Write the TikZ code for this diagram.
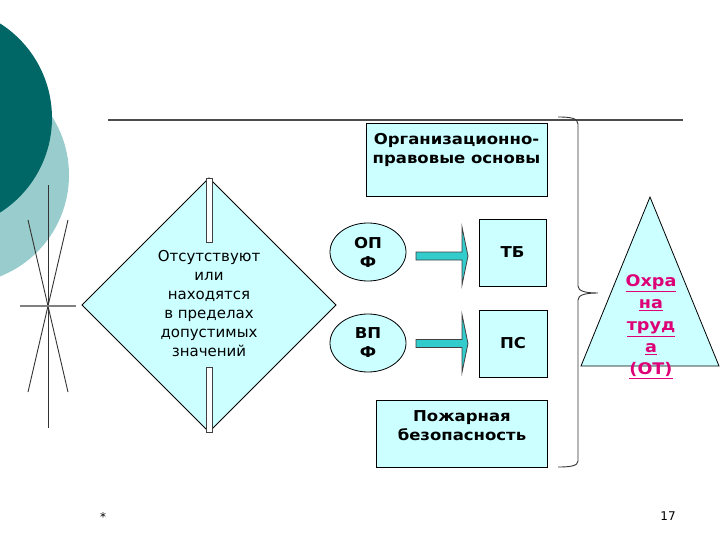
\documentclass[tikz,border=0pt]{standalone}
\usepackage{fontspec}
\setmainfont{DejaVu Sans}[BoldFeatures={FakeStretch=1.1}]
\usetikzlibrary{shapes.geometric}
\definecolor{paleblue}{RGB}{204,255,255}
\definecolor{darkteal}{RGB}{0,102,102}
\definecolor{softteal}{RGB}{153,204,204}
\definecolor{arrowteal}{RGB}{51,204,204}
\definecolor{otpink}{RGB}{221,0,119}
\tikzstyle{block}=[draw,line width=0.8pt,fill=paleblue,inner sep=0pt,font=\bfseries\fontsize{15}{19}\selectfont,align=center]
\tikzstyle{factor}=[ellipse,draw,line width=0.8pt,fill=paleblue,minimum width=76pt,minimum height=58pt,inner sep=0pt,font=\bfseries\fontsize{15}{19}\selectfont,align=center]
\tikzstyle{fat arrow}=[draw=black!75,fill=arrowteal,line width=0.8pt]
\tikzstyle{thinline}=[draw=black!80,line width=0.9pt]

\begin{document}
\begin{tikzpicture}[x=1pt,y=-1pt]
    \useasboundingbox (0,0) rectangle (720,540);
    % Slide decoration on the left
    \begin{scope}
        \clip (0,0) rectangle (720,540);
        \fill[softteal] (-40,175) circle (109pt);
        \fill[darkteal] (-60,118) circle (112pt);
    \end{scope}
    \foreach \from/\to in {{(48,185)/(48,428)}, {(28,220)/(68,392)}, {(68,220)/(28,392)}}
        \path[thinline] \from -- \to;
    \draw[gray,line width=1.6pt] (20,306) -- (76,306);
    \path[thinline,draw=black!70,line width=1.2pt] (108,120) -- (683,120);

    % Diamond with the condition
    \filldraw[fill=paleblue,draw=black,line width=0.8pt] (82,305) -- (209,178) -- (336,305) -- (209,432) -- cycle;
    \filldraw[fill=white,draw=black!75,line width=0.8pt] (206.5,178) rectangle (212,242);
    \filldraw[fill=white,draw=black!75,line width=0.8pt] (206.5,367) rectangle (212,432);
    \node[align=center,font=\fontsize{15}{19}\selectfont] (cond) at (209,304)
        {Отсутствуют\\или\\находятся\\в пределах\\допустимых\\значений};

    % Factors and the boxes
    \node[factor] (opf) at (368,252) {ОП\\Ф};
    \node[factor] (vpf) at (368,343) {ВП\\Ф};
    \node[block,minimum width=181pt,minimum height=73pt] (org) at (456.5,159.5) {};
    \node[align=center,font=\bfseries\fontsize{15}{19}\selectfont] (orgtext) at (456.5,150) {Организационно-\\правовые основы};
    \node[block,minimum width=67pt,minimum height=67pt] (tb) at (512.5,252.5) {ТБ};
    \node[block,minimum width=68pt,minimum height=67pt] (ps) at (513,343.5) {ПС};
    \node[block,minimum width=171pt,minimum height=67pt] (fire) at (462,433.5) {};
    \node[align=center,font=\bfseries\fontsize{15}{19}\selectfont] (firetext) at (462,425.5) {Пожарная\\безопасность};

    % Block arrows
    \foreach \y in {256,343.5}
        \filldraw[fat arrow] (416,\y-4) -- (462,\y-4) -- (462,\y-29) -- (468,\y) -- (462,\y+29) -- (462,\y+4) -- (416,\y+4) -- cycle;

    % Brace and triangle
    \path[thinline] (558,117) .. controls (570,117) and (578,118) .. (578,124) -- (578,286)
        .. controls (578,291) and (585,293) .. (598,293) .. controls (585,293) and (578,295) .. (578,300)
        -- (578,461) .. controls (578,466) and (570,467) .. (558,467);
    \filldraw[fill=paleblue,draw=black,line width=0.8pt] (650,197) -- (719,366) -- (581,366) -- cycle;
    \node[text=otpink,align=center,font=\bfseries\fontsize{16}{22}\selectfont] (ot) at (651,327)
        {\underline{Охра}\\\underline{на}\\\underline{труд}\\\underline{а}\\\underline{(ОТ)}};

    % Footer
    \node[font=\fontsize{12}{14}\selectfont] (star) at (103,517) {*};
    \node[font=\fontsize{12}{14}\selectfont] (page) at (668,516) {17};
\end{tikzpicture}
\end{document}
